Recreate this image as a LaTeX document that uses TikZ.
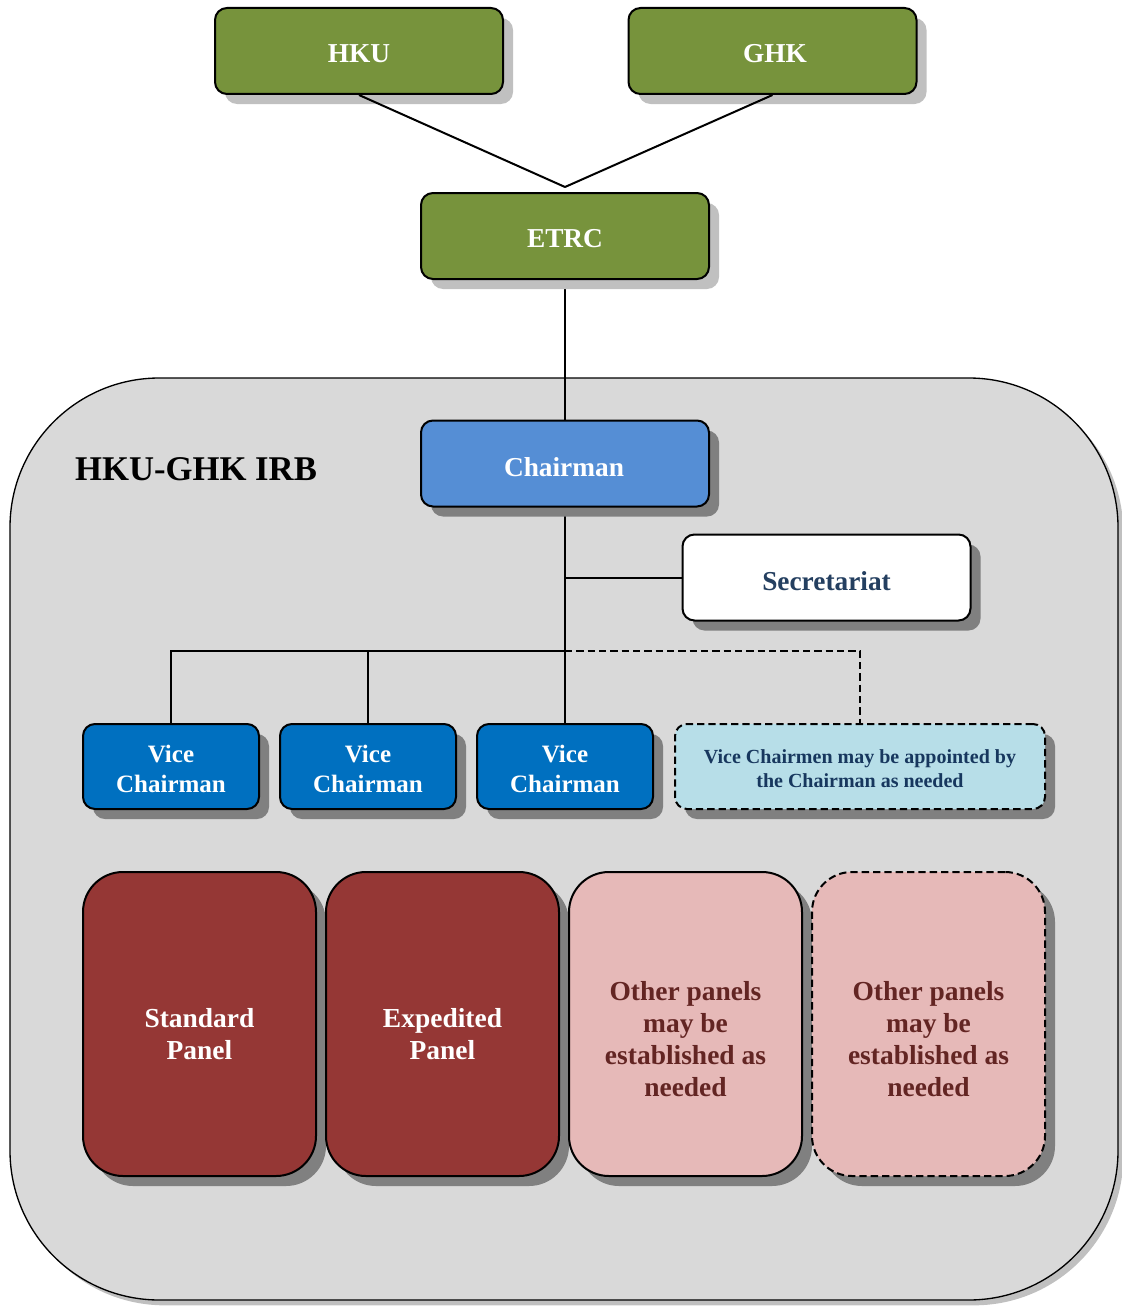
\documentclass[tikz,border=0pt]{standalone}
\usepackage{fontspec}
\setmainfont{Liberation Serif}
\usetikzlibrary{shadows}
\definecolor{greenbox}{HTML}{77933C}
\definecolor{chairblue}{HTML}{558ED5}
\definecolor{vcblue}{HTML}{0070C0}
\definecolor{lightblue}{HTML}{B7DEE8}
\definecolor{darkred}{HTML}{953735}
\definecolor{pinkbox}{HTML}{E6B9B8}
\definecolor{pinktext}{HTML}{632523}
\definecolor{navytext}{HTML}{17375E}
\definecolor{secrtext}{HTML}{243F60}
\definecolor{bggray}{HTML}{D9D9D9}
\definecolor{shadowlight}{HTML}{C0C0C0}
\definecolor{shadowdark}{HTML}{808080}
\pgfdeclarelayer{bg}
\pgfdeclarelayer{conn}
\pgfsetlayers{bg,conn,main}
\begin{document}
\begin{tikzpicture}[x=0.75pt,y=-0.75pt,
  shlight/.style={drop shadow={shadow xshift=7.5pt,shadow yshift=-7.5pt,fill=shadowlight,opacity=1}},
  shdark/.style={drop shadow={shadow xshift=7.5pt,shadow yshift=-7.5pt,fill=shadowdark,opacity=1}},
  box/.style={draw=black,line width=1.5pt,rounded corners=9pt,inner sep=0pt,
    minimum width=216pt,minimum height=64.5pt},
  topbox/.style={box,shlight,fill=greenbox},
  vcbox/.style={box,shdark,fill=vcblue,minimum width=132pt,minimum height=63.75pt},
  panel/.style={box,shdark,rounded corners=30pt,minimum width=174.75pt,minimum height=228pt},
  txt/.style={inner sep=0pt,align=center,text=white,font=\fontsize{20.5}{25}\selectfont\bfseries},
  vctxt/.style={txt,font=\fontsize{18.75}{22}\selectfont\bfseries},
  ptxt/.style={txt,font=\fontsize{20.6}{24}\selectfont\bfseries},
  conn/.style={draw=black,line width=1.5pt},
  dashline/.style={conn,dash pattern=on 5.5pt off 3pt}
]
\useasboundingbox (0,0) rectangle (1121,1306);
% container
\begin{pgfonlayer}{bg}
\node[draw=black,line width=1pt,fill=bggray,rounded corners=112pt,minimum width=831pt,
  minimum height=691.5pt,inner sep=0pt,
  drop shadow={shadow xshift=4pt,shadow yshift=-4pt,fill=shadowlight,opacity=1}] (irb) at (564,839) {};
\end{pgfonlayer}
\node[txt,text=black,font=\fontsize{26}{30}\selectfont\bfseries] (irblabel) at (196,469) {HKU-GHK IRB};
% top
\node[topbox] (hku) at (359,51) {};
\node[txt] (hkut) at (359,54) {HKU};
\node[topbox] (ghk) at (772.5,51) {};
\node[txt] (ghkt) at (775,54) {GHK};
\node[topbox] (etrc) at (565,236) {};
\node[txt] (etrct) at (565,239) {ETRC};
\node[box,shdark,fill=chairblue] (chair) at (565,463.5) {};
\node[txt] (chairt) at (564,467) {Chairman};
\node[box,shdark,fill=white] (secr) at (826.5,577.5) {};
\node[txt,text=secrtext] (secrt) at (826.5,581) {Secretariat};
% vice chairmen
\node[vcbox] (vc1) at (171,766.5) {};
\node[vctxt] (vc1t) at (171,769) {Vice\\Chairman};
\node[vcbox] (vc2) at (368,766.5) {};
\node[vctxt] (vc2t) at (368,769) {Vice\\Chairman};
\node[vcbox] (vc3) at (565,766.5) {};
\node[vctxt] (vc3t) at (565,769) {Vice\\Chairman};
\node[box,shdark,fill=lightblue,dash pattern=on 5.5pt off 3pt,minimum width=277.5pt,
  minimum height=63.75pt] (vcx) at (860,766.5) {};
\node[txt,text=navytext,font=\fontsize{15}{18}\selectfont\bfseries] (vcxt) at (860,769)
  {Vice Chairmen may be appointed by\\the Chairman as needed};
% panels
\node[panel,fill=darkred] (p1) at (199.5,1024) {};
\node[ptxt] (p1t) at (199.5,1034) {Standard\\Panel};
\node[panel,fill=darkred] (p2) at (442.5,1024) {};
\node[ptxt] (p2t) at (442.5,1034) {Expedited\\Panel};
\node[panel,fill=pinkbox] (p3) at (685.5,1024) {};
\node[ptxt,text=pinktext] (p3t) at (685.5,1039) {Other panels\\may be\\established as\\needed};
\node[panel,fill=pinkbox,dash pattern=on 5.5pt off 3pt] (p4) at (928.5,1024) {};
\node[ptxt,text=pinktext] (p4t) at (928.5,1039) {Other panels\\may be\\established as\\needed};
% connectors
\coordinate (meet) at ([yshift=3.75pt]etrc.north);
\draw[conn] (hku.south) -- (meet);
\draw[conn] (ghk.south) -- (meet);
\begin{pgfonlayer}{conn}
\coordinate (bus) at (565,651);
\draw[conn] (etrc.south) -- (chair.north);
\draw[conn] (chair.south) -- (vc3.north);
\draw[conn] (chair.south |- secr.west) -- (secr.west);
\draw[conn] (vc1.north) |- (bus);
\draw[conn] (vc2.north) -- (vc2.north |- bus);
\draw[dashline] (bus) -| (vcx.north);
\end{pgfonlayer}
\end{tikzpicture}
\end{document}
